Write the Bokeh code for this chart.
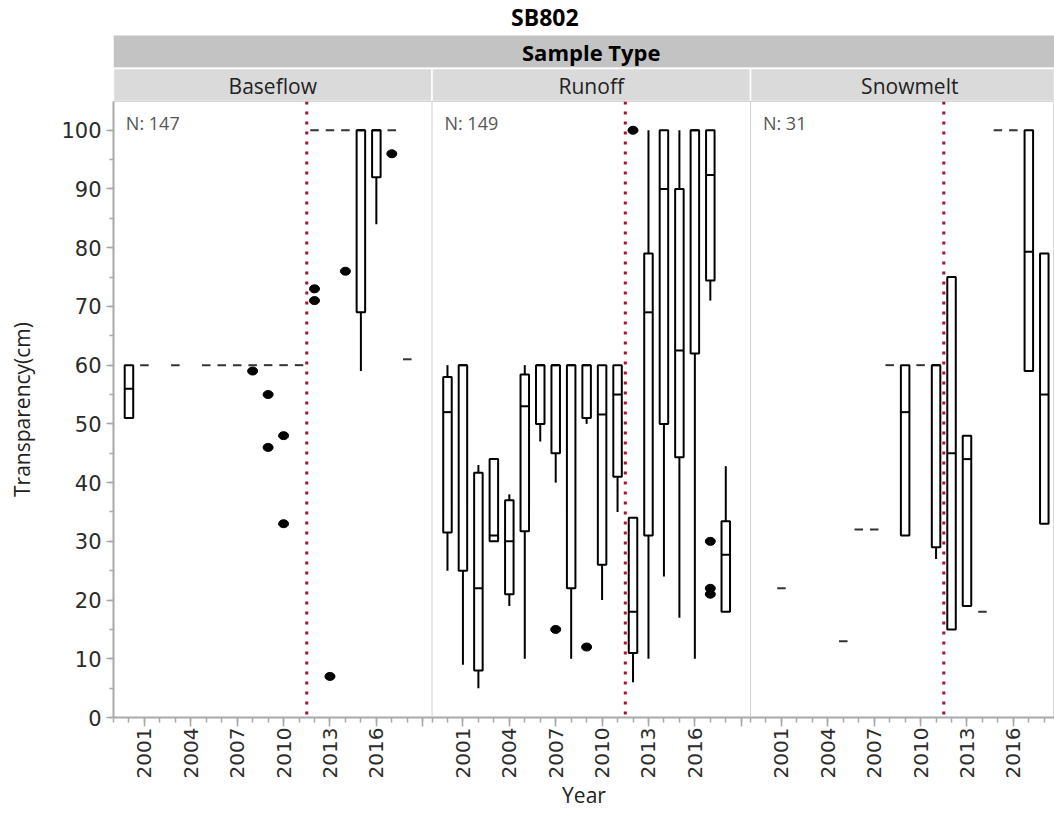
import math
from bokeh.plotting import figure
from bokeh.models import (Range1d, FixedTicker, SingleIntervalTicker,
                          CustomJSTickFormatter, Span)
from bokeh.layouts import column
from bokeh.embed import file_html
from bokeh.resources import INLINE
from bokeh.core.properties import value

# ---------------- data ----------------
TITLE = "SB802"
GROUP_LABEL = "Sample Type"
PANELS = ["Baseflow", "Runoff", "Snowmelt"]
N_COUNTS = [147, 149, 31]
REF_LINE_YEAR = 2011.5
TICK_YEARS = [2001, 2004, 2007, 2010, 2013, 2016, 2019]

# Baseflow box statistics
bf_year = [2000, 2001, 2003, 2005, 2006, 2007, 2008, 2009, 2010, 2011, 2012, 2013, 2014, 2015, 2016, 2017, 2018]
bf_low  = [51, 60, 60, 60, 60, 60, 60, 60, 60, 60, 100, 100, 100, 59, 84, 100, 61]
bf_q1   = [51, 60, 60, 60, 60, 60, 60, 60, 60, 60, 100, 100, 100, 69, 92, 100, 61]
bf_med  = [56, 60, 60, 60, 60, 60, 60, 60, 60, 60, 100, 100, 100, 100, 100, 100, 61]
bf_q3   = [60, 60, 60, 60, 60, 60, 60, 60, 60, 60, 100, 100, 100, 100, 100, 100, 61]
bf_high = [60, 60, 60, 60, 60, 60, 60, 60, 60, 60, 100, 100, 100, 100, 100, 100, 61]
bf_out_year = [2008, 2009, 2009, 2010, 2010, 2012, 2012, 2013, 2014, 2017]
bf_out_val  = [59, 55, 46, 48, 33, 73, 71, 7, 76, 96]

# Runoff box statistics
ro_year = [2000, 2001, 2002, 2003, 2004, 2005, 2006, 2007, 2008, 2009, 2010, 2011, 2012, 2013, 2014, 2015, 2016, 2017, 2018]
ro_low  = [25, 9, 5, 30, 19, 10, 47, 40, 10, 50, 20, 35, 6, 10, 24, 17, 10, 71, 18]
ro_q1   = [31.5, 25, 8, 30, 21, 31.7, 50, 45, 22, 51, 26, 41, 11, 31, 50, 44.3, 62, 74.4, 18]
ro_med  = [52, 60, 22, 31, 30, 53, 60, 60, 60, 60, 51.6, 55, 18, 69, 90, 62.5, 100, 92.4, 27.7]
ro_q3   = [58, 60, 41.7, 44, 37, 58.4, 60, 60, 60, 60, 60, 60, 34, 79, 100, 90, 100, 100, 33.4]
ro_high = [60, 60, 43, 44, 38, 60, 60, 60, 60, 60, 60, 60, 34, 100, 100, 100, 100, 100, 42.8]
ro_out_year = [2007, 2009, 2012, 2017, 2017, 2017]
ro_out_val  = [15, 12, 100, 30, 22, 21]

# Snowmelt box statistics
sm_year = [2001, 2005, 2006, 2007, 2008, 2009, 2010, 2011, 2012, 2013, 2014, 2015, 2016, 2017, 2018]
sm_low  = [22, 13, 32, 32, 60, 31, 60, 27, 15, 19, 18, 100, 100, 59, 33]
sm_q1   = [22, 13, 32, 32, 60, 31, 60, 29, 15, 19, 18, 100, 100, 59, 33]
sm_med  = [22, 13, 32, 32, 60, 52, 60, 60, 45, 44, 18, 100, 100, 79.3, 55]
sm_q3   = [22, 13, 32, 32, 60, 60, 60, 60, 75, 48, 18, 100, 100, 100, 79]
sm_high = [22, 13, 32, 32, 60, 60, 60, 60, 75, 48, 18, 100, 100, 100, 79]
sm_out_year = []
sm_out_val  = []

panel_data = [
    (bf_year, bf_low, bf_q1, bf_med, bf_q3, bf_high, bf_out_year, bf_out_val),
    (ro_year, ro_low, ro_q1, ro_med, ro_q3, ro_high, ro_out_year, ro_out_val),
    (sm_year, sm_low, sm_q1, sm_med, sm_q3, sm_high, sm_out_year, sm_out_val),
]

# ---------------- layout constants ----------------
Y0 = 1999            # year at left edge of every panel
SPAN = 20.6          # years spanned by a panel
LAST_SPAN = 19.66    # last panel is cut at the right edge
X_END = 2 * SPAN + LAST_SPAN
BW = 0.55            # box width in years
W = 1054
LEFT = 113
HEAD_H = 101
MAIN_H = 712

FONT = "Open Sans"
TICK_FONT = "DejaVu Sans"
AXIS_GRAY = "#a9a9a9"

x_range = Range1d(0, X_END)

# ---------------- header figure ----------------
h = figure(width=W, height=HEAD_H, x_range=x_range, y_range=Range1d(101, 0),
           output_backend="svg", toolbar_location=None,
           x_axis_location=None, y_axis_location=None,
           min_border_left=LEFT, min_border_right=0, min_border_top=0, min_border_bottom=0)
h.grid.visible = False
h.outline_line_color = None
h.quad(left=[0], right=[X_END], top=[35], bottom=[67], fill_color="#c3c3c3", line_color=None)
h.quad(left=[i * SPAN for i in range(3)],
       right=[min((i + 1) * SPAN, X_END) for i in range(3)],
       top=[68] * 3, bottom=[101] * 3,
       fill_color="#dadada", line_color="white", line_width=1.5)
h.text(x=[27.9], y=[16], text=[TITLE], text_font=value(FONT), text_font_style="bold",
       text_font_size="23px", text_align="center", text_baseline="middle", text_color="black")
h.text(x=[1.5 * SPAN], y=[51], text=[GROUP_LABEL], text_font=value(FONT), text_font_style="bold",
       text_font_size="22px", text_align="center", text_baseline="middle", text_color="black")
h.text(x=[i * SPAN + SPAN / 2 for i in range(3)], y=[85] * 3, text=PANELS,
       text_font=value(FONT), text_font_size="21px", text_align="center",
       text_baseline="middle", text_color="#222222")

# ---------------- main figure ----------------
p = figure(width=W, height=MAIN_H, x_range=x_range, y_range=Range1d(0, 104.9),
           output_backend="svg", toolbar_location=None,
           min_border_left=LEFT, min_border_right=0, min_border_top=0, min_border_bottom=96)
p.grid.visible = False
p.outline_line_color = "#d6d6d6"
p.background_fill_color = "white"

for i, (yr, lo, q1, md, q3, hi, oy, ov) in enumerate(panel_data):
    off = i * SPAN - Y0
    xs = [y + off for y in yr]
    # whiskers
    wx, wy0, wy1 = [], [], []
    for x, a, b, c, d in zip(xs, lo, q1, q3, hi):
        if b != c:
            if d > c:
                wx.append(x); wy0.append(c); wy1.append(d)
            if a < b:
                wx.append(x); wy0.append(a); wy1.append(b)
    p.segment(x0=wx, y0=wy0, x1=wx, y1=wy1, line_color="black", line_width=2)
    # boxes
    bx = [x for x, b, c in zip(xs, q1, q3) if b != c]
    bb = [b for b, c in zip(q1, q3) if b != c]
    bt = [c for b, c in zip(q1, q3) if b != c]
    bm = [m for b, c, m in zip(q1, q3, md) if b != c]
    p.quad(left=[x - BW / 2 for x in bx], right=[x + BW / 2 for x in bx],
           bottom=bb, top=bt, fill_color="white", line_color="black", line_width=2)
    p.segment(x0=[x - BW / 2 for x in bx], x1=[x + BW / 2 for x in bx], y0=bm, y1=bm,
              line_color="black", line_width=2)
    # collapsed boxes (all values equal)
    dx = [x for x, b, c in zip(xs, q1, q3) if b == c]
    dv = [b for b, c in zip(q1, q3) if b == c]
    p.segment(x0=[x - BW / 2 for x in dx], x1=[x + BW / 2 for x in dx], y0=dv, y1=dv,
              line_color="#333333", line_width=2)
    # outliers
    if oy:
        p.ellipse(x=[y + off for y in oy], y=ov, width=10, height=8,
                  width_units="screen", height_units="screen",
                  fill_color="black", line_color="black")
    # N label
    p.text(x=[i * SPAN + 0.8], y=[101.3], text=[f"N: {N_COUNTS[i]}"],
           text_font=value(FONT), text_font_size="18px", text_color="#555555",
           text_baseline="middle", text_align="left")
    # reference line
    p.add_layout(Span(location=REF_LINE_YEAR + off, dimension="height",
                      line_color="#a8102e", line_width=3, line_dash="3 7"))
    if i > 0:
        p.add_layout(Span(location=i * SPAN, dimension="height",
                          line_color="#d0d0d0", line_width=1))

# x axis
major = []
minor = []
for i in range(3):
    for y in TICK_YEARS:
        v = i * SPAN + (y - Y0)
        if v <= X_END:
            major.append(round(v, 6))
    for y in range(Y0, 2020):
        v = i * SPAN + (y - Y0)
        if v <= X_END:
            minor.append(round(v, 6))
p.xaxis.ticker = FixedTicker(ticks=major, minor_ticks=minor)
p.xaxis.formatter = CustomJSTickFormatter(code=f"""
    const span = {SPAN};
    const k = Math.floor((tick + 1e-6) / span);
    const yr = Math.round(tick - k * span + {Y0});
    return yr > 2016 ? "" : String(yr);
""")
p.xaxis.major_label_orientation = math.pi / 2
p.xaxis.axis_label = "Year"
p.xaxis.axis_label_text_font = FONT
p.xaxis.axis_label_text_font_size = "21px"
p.xaxis.axis_label_text_font_style = "normal"
p.xaxis.axis_label_text_color = "#222222"
p.xaxis.axis_label_standoff = 0
p.xaxis.major_label_text_font = TICK_FONT
p.xaxis.major_label_text_font_size = "20px"
p.xaxis.major_label_text_color = "#2b2b2b"
p.xaxis.major_label_standoff = 1
p.xaxis.major_tick_out = 9
p.xaxis.major_tick_in = 0
p.xaxis.minor_tick_out = 5
p.xaxis.minor_tick_in = 0
p.xaxis.axis_line_color = AXIS_GRAY
p.xaxis.axis_line_width = 2
p.xaxis.major_tick_line_color = AXIS_GRAY
p.xaxis.minor_tick_line_color = AXIS_GRAY
p.xaxis.major_tick_line_width = 1.5
p.xaxis.minor_tick_line_width = 1.5

# y axis
p.yaxis.ticker = SingleIntervalTicker(interval=10, num_minor_ticks=2)
p.yaxis.axis_label = "Transparency(cm)"
p.yaxis.axis_label_text_font = FONT
p.yaxis.axis_label_text_font_size = "21px"
p.yaxis.axis_label_text_font_style = "normal"
p.yaxis.axis_label_text_color = "#222222"
p.yaxis.axis_label_standoff = 22
p.yaxis.major_label_text_font = TICK_FONT
p.yaxis.major_label_text_font_size = "21px"
p.yaxis.major_label_text_color = "#2b2b2b"
p.yaxis.major_label_standoff = 5
p.yaxis.major_tick_out = 7
p.yaxis.major_tick_in = 0
p.yaxis.minor_tick_out = 4
p.yaxis.minor_tick_in = 0
p.yaxis.axis_line_color = AXIS_GRAY
p.yaxis.axis_line_width = 2
p.yaxis.major_tick_line_color = AXIS_GRAY
p.yaxis.minor_tick_line_color = AXIS_GRAY
p.yaxis.major_tick_line_width = 1.5
p.yaxis.minor_tick_line_width = 1.5

layout = column(h, p, spacing=0)
open("out.html", "w").write(file_html(layout, INLINE))
